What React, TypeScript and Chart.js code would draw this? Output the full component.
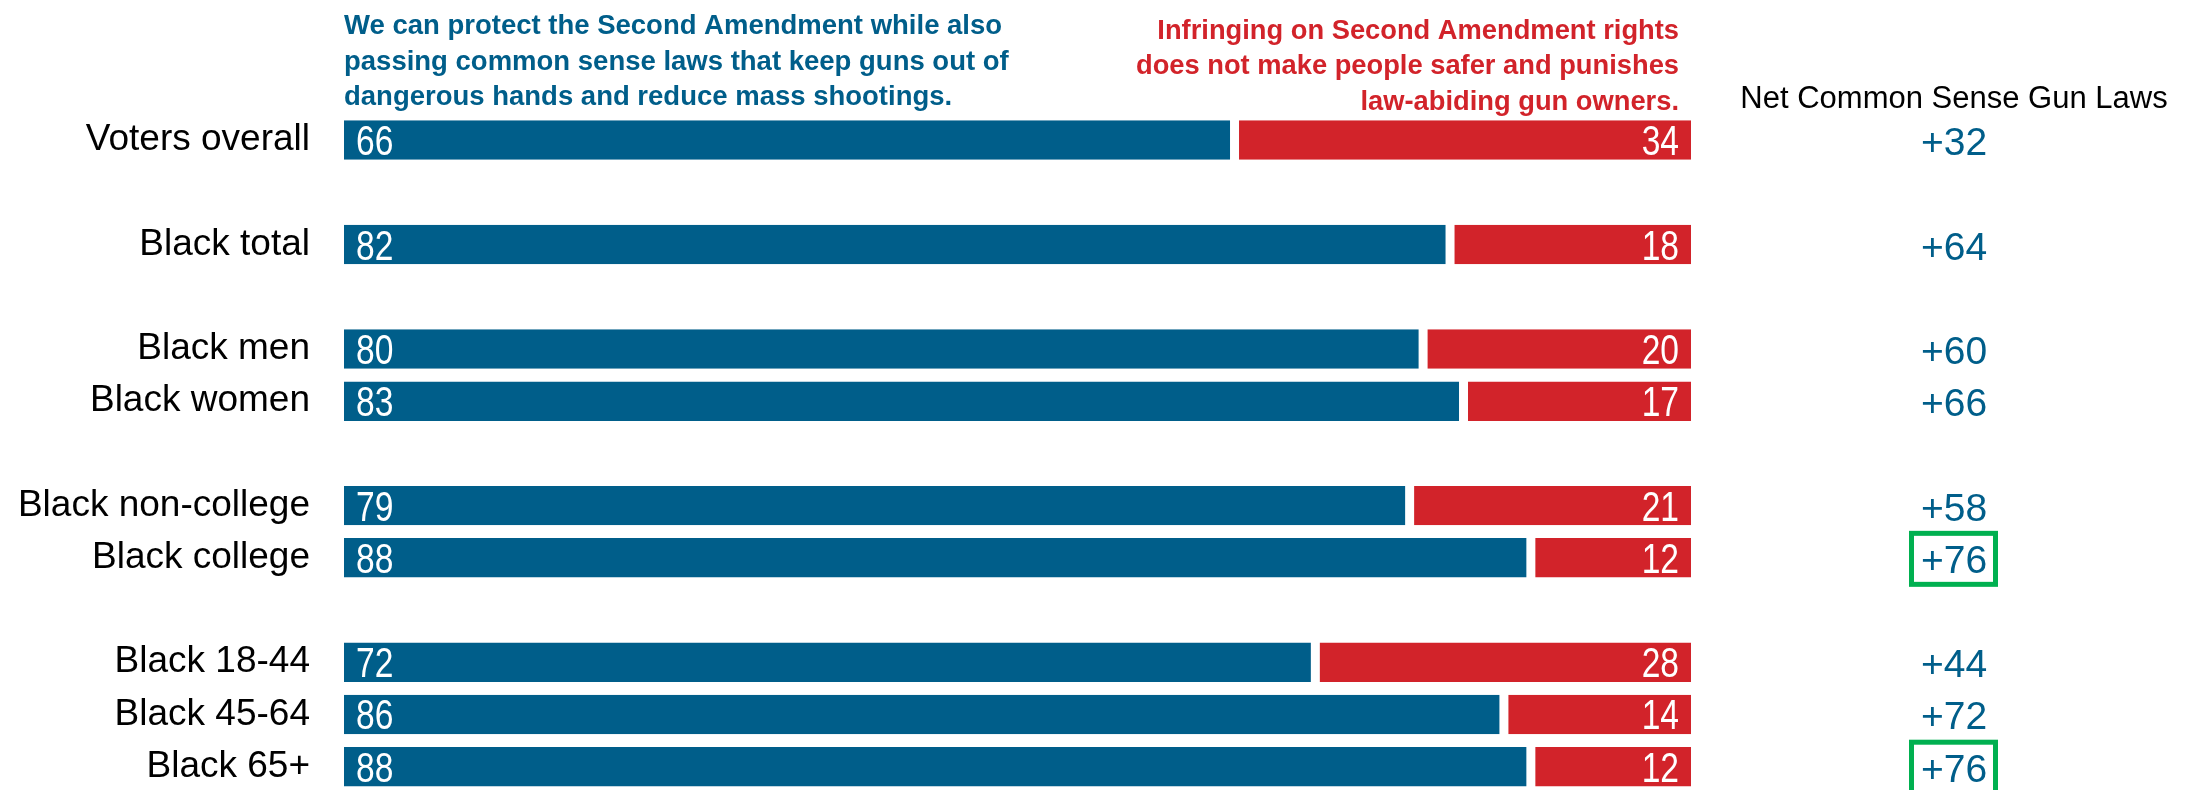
import React, { useEffect, useRef } from 'react';
import { Chart, registerables } from 'chart.js';

Chart.register(...registerables);

const categories = [
  'Voters overall', '',
  'Black total', '',
  'Black men', 'Black women', '',
  'Black non-college', 'Black college', '',
  'Black 18-44', 'Black 45-64', 'Black 65+',
];
const protectValues = [66, null, 82, null, 80, 83, null, 79, 88, null, 72, 86, 88];
const infringeValues = [34, null, 18, null, 20, 17, null, 21, 12, null, 28, 14, 12];
const netValues = [32, null, 64, null, 60, 66, null, 58, 76, null, 44, 72, 76];
const highlighted = [false, false, false, false, false, false, false, false, true, false, false, false, true];

const protectHeader = [
  'We can protect the Second Amendment while also',
  'passing common sense laws that keep guns out of',
  'dangerous hands and reduce mass shootings.',
];
const infringeHeader = [
  'Infringing on Second Amendment rights',
  'does not make people safer and punishes',
  'law-abiding gun owners.',
];
const netHeader = 'Net Common Sense Gun Laws';

const BLUE = '#005E8A';
const RED = '#D2232A';
const GREEN = '#00B050';
const SANS = "'Liberation Sans', Arial, sans-serif";

function condensedText(ctx: any, text: string, x: number, y: number, align: string, sx: number) {
  ctx.save();
  ctx.translate(x, y);
  ctx.scale(sx, 1);
  ctx.textAlign = align;
  ctx.fillText(text, 0, 0);
  ctx.restore();
}

const textPlugin = {
  id: 'textPlugin',
  afterDatasetsDraw(chart: any) {
    const ctx = chart.ctx;
    ctx.save();
    const m0 = chart.getDatasetMeta(0);
    const m1 = chart.getDatasetMeta(1);
    ctx.fillStyle = '#fff';
    ctx.font = `42px ${SANS}`;
    ctx.textBaseline = 'alphabetic';
    m0.data.forEach((el: any, i: number) => {
      const v = protectValues[i];
      if (v == null) return;
      const p = el.getProps(['x', 'y', 'base'], true);
      condensedText(ctx, String(v), Math.min(p.base, p.x) + 12, p.y + 15, 'left', 0.8);
    });
    m1.data.forEach((el: any, i: number) => {
      const v = infringeValues[i];
      if (v == null) return;
      const p = el.getProps(['x', 'y', 'base'], true);
      condensedText(ctx, String(v), Math.max(p.base, p.x) - 12, p.y + 15, 'right', 0.8);
    });
    ctx.restore();
  },
  afterDraw(chart: any) {
    const ctx = chart.ctx;
    const area = chart.chartArea;
    const yScale = chart.scales.y;
    ctx.save();
    ctx.textBaseline = 'alphabetic';
    ctx.font = `bold 27.5px ${SANS}`;
    ctx.fillStyle = BLUE;
    ctx.textAlign = 'left';
    protectHeader.forEach((t, i) => ctx.fillText(t, area.left, 34 + i * 35.5));
    ctx.font = `bold 27.3px ${SANS}`;
    ctx.fillStyle = RED;
    ctx.textAlign = 'right';
    infringeHeader.forEach((t, i) => ctx.fillText(t, area.right - 12, 38.5 + i * 35.5));
    const cx = 1954;
    ctx.fillStyle = '#000';
    ctx.textAlign = 'center';
    ctx.font = `31px ${SANS}`;
    ctx.fillText(netHeader, cx, 108);
    ctx.font = `39px ${SANS}`;
    netValues.forEach((v, i) => {
      if (v == null) return;
      const y = yScale.getPixelForValue(i);
      ctx.fillStyle = BLUE;
      ctx.fillText((v > 0 ? '+' : '') + v, cx, y + 15);
      if (highlighted[i]) {
        const left = cx - 45, right = cx + 44, top = y - 27, bottom = y + 29;
        ctx.strokeStyle = GREEN;
        ctx.lineWidth = 5;
        ctx.strokeRect(left + 2.5, top + 2.5, right - left - 5, bottom - top - 5);
      }
    });
    ctx.restore();
  },
};

const CANVAS_H = 819;

export default function App() {
  const ref = useRef<HTMLCanvasElement | null>(null);
  useEffect(() => {
    document.body.style.margin = '0';
    document.documentElement.style.overflow = 'hidden';
    document.body.style.overflow = 'hidden';
    const canvas = ref.current;
    if (!canvas) return;
    const chart = new Chart(canvas, {
      type: 'bar',
      data: {
        labels: categories,
        datasets: [
          {
            data: protectValues as any,
            backgroundColor: BLUE,
            borderColor: '#fff',
            borderWidth: { top: 0, right: 3, bottom: 0, left: 0 } as any,
            borderSkipped: false as any,
          },
          {
            data: infringeValues as any,
            backgroundColor: RED,
            borderColor: '#fff',
            borderWidth: { top: 0, right: 0, bottom: 0, left: 6 } as any,
            borderSkipped: false as any,
          },
        ],
      },
      options: {
        indexAxis: 'y',
        responsive: false,
        animation: false,
        devicePixelRatio: 1,
        layout: { padding: { top: 114, bottom: 0, left: 0, right: 506 } },
        datasets: { bar: { categoryPercentage: 1, barPercentage: 0.756 } } as any,
        plugins: { legend: { display: false }, tooltip: { enabled: false } },
        scales: {
          x: { stacked: true, min: 0, max: 100, display: false },
          y: {
            stacked: true,
            grid: { display: false },
            border: { display: false },
            ticks: {
              autoSkip: false,
              padding: 26,
              color: '#000',
              font: { family: SANS, size: 37, lineHeight: 0.01 },
            },
            afterFit: (s: any) => { s.width = 344; },
          },
        },
      } as any,
      plugins: [textPlugin],
    });
    return () => chart.destroy();
  }, []);
  return (
    <div style={{ position: 'fixed', left: 0, top: 0, width: 2197, height: CANVAS_H, background: '#fff' }}>
      <canvas ref={ref} width={2197} height={CANVAS_H} style={{ display: 'block' }} />
    </div>
  );
}
